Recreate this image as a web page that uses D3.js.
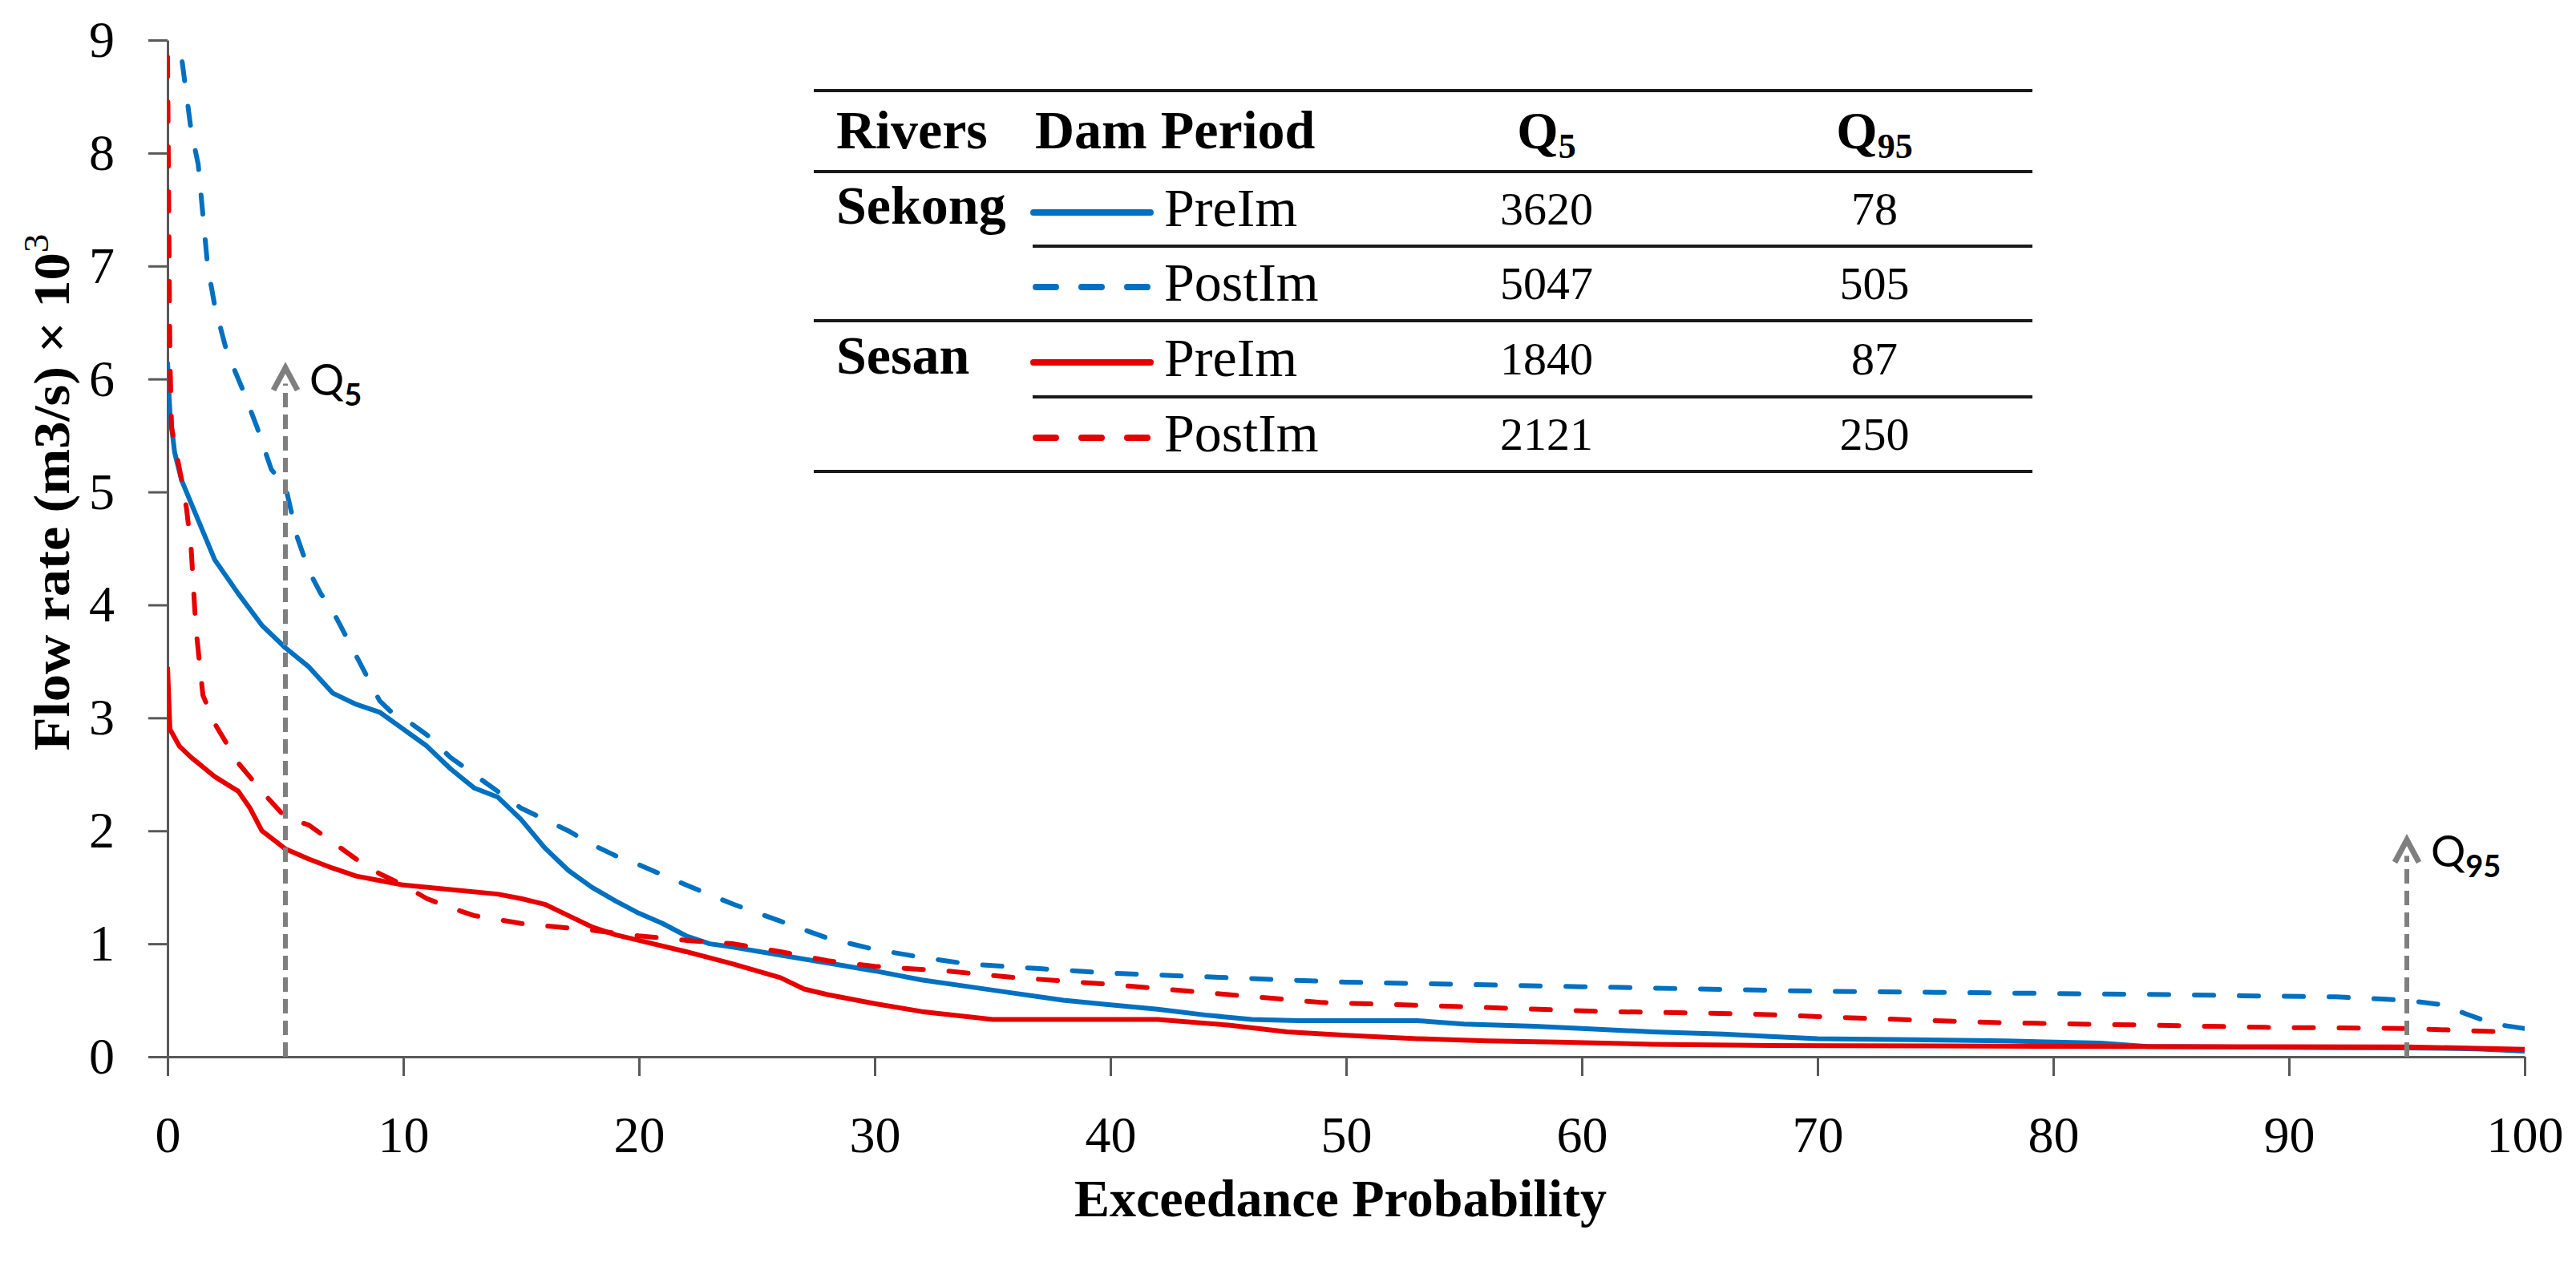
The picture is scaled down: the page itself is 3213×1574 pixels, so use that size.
<!DOCTYPE html>
<html>
<head>
<meta charset="utf-8">
<script src="https://cdn.jsdelivr.net/npm/d3@7"></script>
<style>
body { margin: 0; background: #fff; }
svg { display: block; }
.axis path, .axis line { stroke: #595959; stroke-width: 3; }
.axis text { font-family: "Liberation Serif", serif; font-size: 64px; fill: #000; }
.tbl { font-family: "Liberation Serif", serif; fill: #000; }
</style>
</head>
<body>
<svg id="chart" width="3213" height="1574"></svg>
<script>
// flow duration curves, x = exceedance probability (%), y = flow (m3/s x 10^3)
const sekongPre = [[0,6.15],[0.1,5.7],[0.3,5.35],[0.6,5.1],[1,4.9],[1.5,4.65],[2,4.4],[3,4.1],[4,3.82],[5,3.62],
  [6,3.45],[7,3.22],[8,3.12],[9,3.05],[10,2.9],[11,2.75],[12,2.55],[13,2.38],[14,2.3],[15,2.1],[16,1.85],
  [17,1.65],[18,1.5],[19,1.38],[20,1.27],[21,1.18],[22,1.07],[23,1.0],[24,0.97],[26,0.9],[28,0.83],[30,0.76],
  [32,0.68],[34,0.62],[36,0.56],[38,0.5],[40,0.46],[42,0.42],[44,0.37],[46,0.33],[48,0.32],[50,0.32],[53,0.32],
  [55,0.29],[58,0.27],[60,0.25],[63,0.22],[66,0.2],[68,0.18],[70,0.16],[74,0.15],[78,0.14],[82,0.12],[84,0.09],
  [88,0.085],[92,0.08],[95,0.078],[98,0.07],[100,0.05]];
const sekongPost = [[0.3,9.6],[0.5,9.0],[1,8.2],[1.3,7.9],[1.7,7.0],[2,6.65],[2.5,6.25],[3.2,5.9],[3.8,5.57],
  [4.4,5.2],[5,5.05],[5.5,4.6],[6,4.3],[6.5,4.1],[7,3.95],[7.5,3.75],[8,3.55],[8.5,3.35],[9,3.15],[9.5,3.05],
  [10,3.0],[11,2.85],[12,2.65],[13,2.5],[14,2.35],[15,2.2],[16,2.1],[17,2.0],[18,1.88],[19,1.78],[20,1.7],
  [22,1.52],[24,1.35],[26,1.2],[28,1.05],[30,0.95],[32,0.88],[34,0.82],[37,0.78],[40,0.74],[45,0.7],[50,0.66],
  [55,0.64],[60,0.62],[65,0.6],[70,0.58],[75,0.57],[80,0.56],[85,0.55],[88,0.54],[92,0.53],[95,0.5],
  [96.5,0.46],[97.5,0.38],[98.7,0.29],[100,0.25]];
const sesanPre = [[0,3.45],[0.1,2.9],[0.5,2.75],[1,2.65],[2,2.48],[3,2.35],[3.5,2.2],[4,2.0],[4.5,1.92],[5,1.84],
  [6,1.75],[7,1.67],[8,1.6],[9,1.56],[10,1.52],[12,1.48],[14,1.44],[15,1.4],[16,1.35],[17,1.25],[18,1.15],
  [19,1.08],[20,1.03],[22,0.93],[24,0.82],[26,0.7],[27,0.6],[28,0.55],[30,0.47],[32,0.4],[35,0.33],[38,0.33],
  [42,0.33],[45,0.28],[47.5,0.22],[50,0.19],[53,0.16],[56,0.14],[59,0.13],[63,0.11],[68,0.1],[75,0.095],
  [83,0.09],[90,0.088],[95,0.087],[98,0.075],[100,0.065]];
const sesanPost = [[0,8.85],[0.05,7.5],[0.1,6.2],[0.17,5.57],[0.6,5.1],[0.8,4.86],[1,4.5],[1.2,3.8],[1.5,3.2],
  [2,2.95],[3,2.6],[4,2.35],[5,2.12],[6,2.05],[7,1.9],[8,1.75],[9,1.62],[10,1.52],[11,1.4],[12,1.32],[13,1.25],
  [15,1.18],[18,1.12],[20,1.07],[22,1.03],[24,1.0],[26,0.93],[28,0.85],[30,0.8],[33,0.76],[36,0.7],[40,0.64],
  [45,0.55],[49,0.48],[54,0.45],[61,0.4],[67,0.38],[72,0.34],[78,0.3],[84,0.28],[89,0.26],[95,0.25],[99.2,0.22]];

const xTicks = [0,10,20,30,40,50,60,70,80,90,100];
const yTicks = [0,1,2,3,4,5,6,7,8,9];

// table
const rivers = ['Sekong', 'Sesan'];
const periods = ['PreIm', 'PostIm'];
const q5Values = [3620, 5047, 1840, 2121];
const q95Values = [78, 505, 87, 250];

// annotation arrows: [probability, arrow tip flow, subscript]
const markers = [[5, 6.1, '5'], [95, 1.92, '95']];

const BLUE = '#0070c0', RED = '#e60000', GREY = '#7f7f7f';
const series = [
  {data: sekongPost, color: BLUE, dash: true},
  {data: sekongPre, color: BLUE, dash: false},
  {data: sesanPre, color: RED, dash: false},
  {data: sesanPost, color: RED, dash: true}
];
const legendOrder = [sekongPre, sekongPost, sesanPre, sesanPost];

let svg = d3.select('#chart');
let x = d3.scaleLinear().domain([0, 100]).range([209, 3149]);
let y = d3.scaleLinear().domain([0, 9]).range([1318, 50]);

svg.append('defs').append('clipPath').attr('id', 'plot')
  .append('rect').attr('x', x(0)).attr('y', y(9)).attr('width', x(100) - x(0)).attr('height', y(0) - y(9));

// axes
svg.append('g').attr('class', 'axis')
  .attr('transform', 'translate(0,' + y(0) + ')')
  .call(d3.axisBottom(x).tickValues(xTicks).tickSize(24).tickSizeOuter(0).tickPadding(50));
svg.append('g').attr('class', 'axis')
  .attr('transform', 'translate(' + x(0) + ',0)')
  .call(d3.axisLeft(y).tickValues(yTicks).tickSize(24).tickSizeOuter(0).tickPadding(42));

// curves
let line = d3.line().x((d) => x(d[0])).y((d) => y(d[1]));
let curves = svg.append('g').attr('clip-path', 'url(#plot)');
for (let s of series) {
  curves.append('path')
    .attr('d', line(s.data))
    .attr('fill', 'none')
    .attr('stroke', s.color)
    .attr('stroke-width', 6)
    .attr('stroke-linejoin', 'round')
    .attr('stroke-linecap', s.dash ? 'round' : 'butt')
    .attr('stroke-dasharray', s.dash ? '24,32' : null);
}

// Q5 / Q95 arrows
for (let m of markers) {
  let px = x(m[0]), tip = y(m[1]);
  svg.append('line')
    .attr('x1', px).attr('x2', px).attr('y1', y(0)).attr('y2', tip + 20)
    .attr('stroke', GREY).attr('stroke-width', 6).attr('stroke-dasharray', '18,9');
  svg.append('path')
    .attr('d', `M${px - 15},${tip + 28} L${px},${tip} L${px + 15},${tip + 28}`)
    .attr('fill', 'none').attr('stroke', GREY).attr('stroke-width', 7)
    .attr('stroke-linejoin', 'miter');
  let t = svg.append('text')
    .attr('x', px + 30).attr('y', tip + 34)
    .attr('font-family', 'Lato, "Open Sans", sans-serif')
    .attr('font-size', 54).attr('fill', '#000');
  t.append('tspan').text('Q');
  t.append('tspan').attr('font-size', 38).attr('font-weight', 'bold').attr('dy', 13).text(m[2]);
}

// axis titles
svg.append('text')
  .attr('x', 1672).attr('y', 1517)
  .attr('text-anchor', 'middle')
  .attr('font-family', '"Liberation Serif", serif')
  .attr('font-weight', 'bold').attr('font-size', 66)
  .text('Exceedance Probability');

let yt = svg.append('text')
  .attr('transform', 'translate(86,614) rotate(-90) scale(1.07,1)')
  .attr('text-anchor', 'middle')
  .attr('font-family', '"Liberation Serif", serif')
  .attr('font-weight', 'bold').attr('font-size', 64);
yt.append('tspan').text('Flow rate (m3/s) × 10');
yt.append('tspan').attr('font-size', 44).attr('font-weight', 'normal').attr('dy', -26).text('3');

// table legend
let tbl = svg.append('g').attr('class', 'tbl');
const left = 1015, right = 2535, colPeriod = 1288, colQ5 = 1929, colQ95 = 2338;
const ruleY = [113, 214, 307, 400, 495, 588];
ruleY.forEach((ry, i) => {
  tbl.append('line')
    .attr('x1', (i === 2 || i === 4) ? colPeriod : left).attr('x2', right)
    .attr('y1', ry).attr('y2', ry)
    .attr('stroke', '#1a1a1a').attr('stroke-width', 4);
});

tbl.append('text').attr('x', 1043).attr('y', 185)
  .attr('font-weight', 'bold').attr('font-size', 68).text('Rivers');
tbl.append('text').attr('x', 1291).attr('y', 185)
  .attr('font-weight', 'bold').attr('font-size', 68).text('Dam Period');
[[colQ5, '5'], [colQ95, '95']].forEach((h) => {
  let t = tbl.append('text').attr('x', h[0]).attr('y', 185)
    .attr('text-anchor', 'middle').attr('font-weight', 'bold').attr('font-size', 66);
  t.append('tspan').text('Q');
  t.append('tspan').attr('font-size', 44).attr('dy', 12).text(h[1]);
});

const rowMid = [260, 353, 447, 541];
rivers.forEach((r, i) => {
  tbl.append('text').attr('x', 1043).attr('y', rowMid[i * 2] + 19)
    .attr('font-weight', 'bold').attr('font-size', 68).text(r);
});
legendOrder.forEach((d, i) => {
  let s = series.find((z) => z.data === d);
  let my = rowMid[i] + 5;
  tbl.append('line')
    .attr('x1', s.dash ? 1292 : 1289).attr('x2', s.dash ? 1432 : 1435)
    .attr('y1', my).attr('y2', my)
    .attr('stroke', s.color).attr('stroke-width', 8)
    .attr('stroke-linecap', 'round')
    .attr('stroke-dasharray', s.dash ? '25,32' : null);
  tbl.append('text').attr('x', 1452).attr('y', rowMid[i] + 22)
    .attr('font-size', 68).text(periods[i % 2]);
  tbl.append('text').attr('x', colQ5).attr('y', rowMid[i] + 20)
    .attr('text-anchor', 'middle').attr('font-size', 58).text(q5Values[i]);
  tbl.append('text').attr('x', colQ95).attr('y', rowMid[i] + 20)
    .attr('text-anchor', 'middle').attr('font-size', 58).text(q95Values[i]);
});
</script>
</body>
</html>
